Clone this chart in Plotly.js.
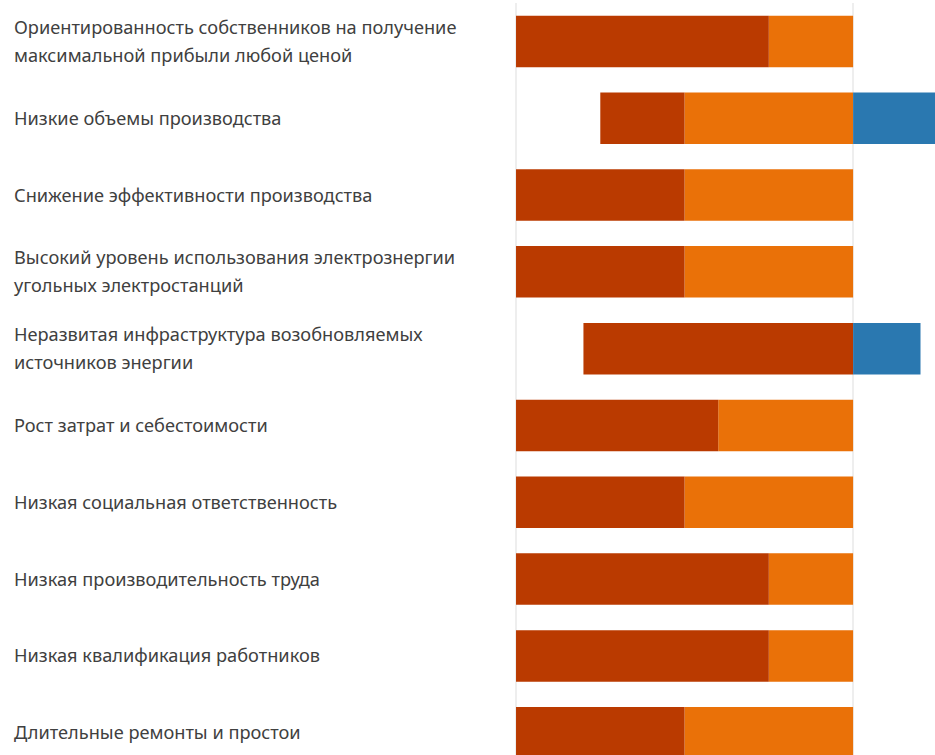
<!DOCTYPE html>
<html>
<head>
<meta charset="utf-8">
<script src="https://cdn.plot.ly/plotly-3.0.1.min.js"></script>
<style>html,body{margin:0;padding:0;background:#fff;overflow:hidden}#chart{width:935px;height:755px}</style>
</head>
<body>
<div id="chart"></div>
<script>
var categories = [
  "Ориентированность собственников на получение максимальной прибыли любой ценой",
  "Низкие объемы производства",
  "Снижение эффективности производства",
  "Высокий уровень использования электрознергии угольных электростанций",
  "Неразвитая инфраструктура возобновляемых источников энергии",
  "Рост затрат и себестоимости",
  "Низкая социальная ответственность",
  "Низкая производительность труда",
  "Низкая квалификация работников",
  "Длительные ремонты и простои"
];
var labelLines = [
  ["Ориентированность собственников на получение", "максимальной прибыли любой ценой"],
  ["Низкие объемы производства"],
  ["Снижение эффективности производства"],
  ["Высокий уровень использования электрознергии", "угольных электростанций"],
  ["Неразвитая инфраструктура возобновляемых", "источников энергии"],
  ["Рост затрат и себестоимости"],
  ["Низкая социальная ответственность"],
  ["Низкая производительность труда"],
  ["Низкая квалификация работников"],
  ["Длительные ремонты и простои"]
];
var seriesNames = ["Высокая", "Средняя", "Низкая"];
var highValues = [75, 25, 50, 50, 80, 60, 50, 75, 75, 50];
var midValues  = [25, 50, 50, 50, 0, 40, 50, 25, 25, 50];
var lowValues  = [0, 25, 0, 0, 20, 0, 0, 0, 0, 0];

var colors = {high: "#BA3A00", mid: "#EA7108", low: "#2A78B0"};

var traces = [
  {type: "bar", orientation: "h", name: seriesNames[1], y: categories,
   x: midValues.map(function(v){return -v;}), marker: {color: colors.mid, line: {width: 0}}},
  {type: "bar", orientation: "h", name: seriesNames[0], y: categories,
   x: highValues.map(function(v){return -v;}), marker: {color: colors.high, line: {width: 0}}},
  {type: "bar", orientation: "h", name: seriesNames[2], y: categories,
   x: lowValues, marker: {color: colors.low, line: {width: 0}}}
];

var annotations = [];
var lineGap = 28;
labelLines.forEach(function(lines, i){
  var n = lines.length;
  lines.forEach(function(t, j){
    annotations.push({
      xref: "paper", yref: "y", x: -(514 - 12) / (935 - 514), y: categories[i],
      xanchor: "left", yanchor: "middle", showarrow: false, align: "left",
      text: t, yshift: ((n - 1) / 2 - j) * lineGap + 0.5,
      font: {family: "Noto Sans, Open Sans, sans-serif", size: 18.2, color: "#404040"}
    });
  });
});

var layout = {
  width: 935, height: 755,
  margin: {l: 514, r: 0, t: 3, b: 0, pad: 0},
  paper_bgcolor: "#ffffff", plot_bgcolor: "#ffffff",
  barmode: "relative", bargap: 0.33,
  showlegend: false,
  xaxis: {range: [-100.6, 24.3], tickvals: [-100, 0], showticklabels: false,
          showgrid: true, gridcolor: "#eeeeee", gridwidth: 1.5,
          zeroline: true, zerolinecolor: "#eeeeee", zerolinewidth: 1.5, fixedrange: true},
  yaxis: {type: "category", range: [9.29, -0.5], showticklabels: false, showgrid: false,
          zeroline: false, ticks: "", fixedrange: true},
  annotations: annotations
};

Plotly.newPlot("chart", traces, layout, {displayModeBar: false, staticPlot: true});
</script>
</body>
</html>
